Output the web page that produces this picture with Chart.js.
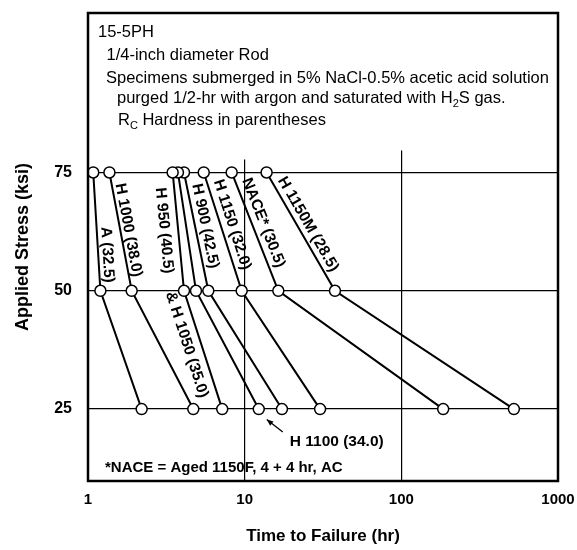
<!DOCTYPE html>
<html>
<head>
<meta charset="utf-8">
<script src="https://cdn.jsdelivr.net/npm/chart.js@4.4.1/dist/chart.umd.min.js"></script>
<style>
  body { margin: 0; background: #fff; }
  #wrap { width: 577px; height: 550px; }
</style>
</head>
<body>
<div id="wrap"><canvas id="failure"></canvas></div>
<script>
// stress levels (ksi) and time to failure (hr) per heat treatment
var stressLevels = [75, 50, 25];
var hoursA      = [1.08, 1.20, 2.20];
var hoursH1000  = [1.37, 1.90, 4.70];
var hoursH950   = [3.47, 4.10, 7.19];
var hoursH1100  = [3.75, 4.89, 12.3];
var hoursH900   = [4.10, 5.86, 17.3];
var hoursH1150  = [5.48, 9.57, 30.3];
var hoursNACE   = [8.26, 16.4, 185];
var hoursH1150M = [13.8, 37.7, 523];
var seriesNames = ['A', 'H 1000', 'H 950 & H 1050', 'H 1100', 'H 900', 'H 1150', 'NACE', 'H 1150M'];
var seriesHours = [hoursA, hoursH1000, hoursH950, hoursH1100, hoursH900, hoursH1150, hoursNACE, hoursH1150M];
var xTicks = [1, 10, 100, 1000];
var yTicks = [25, 50, 75];

var FONT = '"Liberation Sans", Arial, sans-serif';

// labels written along the lines: dataset, segment, fraction along it, offset (px, + = right)
var lineLabels = [
  {text: 'A (32.5)',        ds: 0, seg: 0, t: 0.70, off: 9},
  {text: 'H 1000 (38.0)',   ds: 1, seg: 0, t: 0.50, off: 8},
  {text: 'H 950 (40.5)',    ds: 2, seg: 0, t: 0.48, off: -14},
  {text: '& H 1050 (35.0)', ds: 2, seg: 1, t: 0.42, off: -14},
  {text: 'H 900 (42.5)',    ds: 4, seg: 0, t: 0.47, off: 10},
  {text: 'H 1150 (32.0)',   ds: 5, seg: 0, t: 0.47, off: 11},
  {text: 'NACE* (30.5)',    ds: 6, seg: 0, t: 0.46, off: 11},
  {text: 'H 1150M (28.5)',  ds: 7, seg: 0, t: 0.48, off: 10}
];

var headerLines = [
  {dx: 10, dy: 24, runs: [{s: '15-5PH'}]},
  {dx: 18.5, dy: 47, runs: [{s: '1/4-inch diameter Rod'}]},
  {dx: 18, dy: 70, runs: [{s: 'Specimens submerged in 5% NaCl-0.5% acetic acid solution'}]},
  {dx: 29, dy: 90, runs: [{s: 'purged 1/2-hr with argon and saturated with H'}, {s: '2', sub: true}, {s: 'S gas.'}]},
  {dx: 30, dy: 112, runs: [{s: 'R'}, {s: 'C', sub: true}, {s: ' Hardness in parentheses'}]}
];

var datasets = seriesHours.map(function(hrs, i) {
  return {
    label: seriesNames[i],
    data: hrs.map(function(h, j) { return {x: h, y: stressLevels[j]}; }),
    borderColor: '#000',
    borderWidth: 2,
    pointRadius: 5.5,
    pointBorderWidth: 1.5,
    pointBackgroundColor: '#fff',
    pointBorderColor: '#000',
    tension: 0,
    clip: false
  };
});

function segPoint(chart, ds, seg, t) {
  var pts = chart.getDatasetMeta(ds).data;
  var a = pts[seg], b = pts[seg + 1];
  return {x: a.x + (b.x - a.x) * t, y: a.y + (b.y - a.y) * t,
          ang: Math.atan2(b.y - a.y, b.x - a.x)};
}

function noPad(scale) {
  scale.paddingLeft = 0;
  scale.paddingRight = 0;
  scale.paddingTop = 0;
  scale.paddingBottom = 0;
}

var decorations = {
  id: 'decorations',
  beforeDatasetsDraw: function(chart) {
    var ctx = chart.ctx, area = chart.chartArea;
    var y75 = chart.scales.y.getPixelForValue(75);
    ctx.save();
    // text box covers the upper part of the grid
    ctx.fillStyle = '#fff';
    ctx.fillRect(area.left + 2, area.top - 8, area.right - area.left - 4, y75 - area.top - 14);
    ctx.fillRect(area.left + 2, area.top - 8, 200, y75 - area.top - 5);
    ctx.fillStyle = '#000';
    ctx.textBaseline = 'alphabetic';
    ctx.textAlign = 'left';
    headerLines.forEach(function(line) {
      var x = area.left + line.dx, y = area.top + line.dy;
      line.runs.forEach(function(r) {
        ctx.font = (r.sub ? '11px ' : '16.5px ') + FONT;
        ctx.fillText(r.s, x, r.sub ? y + 4 : y);
        x += ctx.measureText(r.s).width;
      });
    });
    ctx.restore();
  },
  afterDatasetsDraw: function(chart) {
    var ctx = chart.ctx, area = chart.chartArea;
    ctx.save();
    ctx.fillStyle = '#000';
    ctx.font = 'bold 15.5px ' + FONT;
    ctx.textAlign = 'center';
    ctx.textBaseline = 'middle';
    lineLabels.forEach(function(lb) {
      var p = segPoint(chart, lb.ds, lb.seg, lb.t);
      ctx.save();
      ctx.translate(p.x + lb.off * Math.sin(p.ang), p.y - lb.off * Math.cos(p.ang));
      ctx.rotate(p.ang);
      ctx.fillText(lb.text, 0, 0);
      ctx.restore();
    });

    // H 1100 callout
    var pt = chart.getDatasetMeta(3).data[2];
    ctx.textAlign = 'left';
    ctx.textBaseline = 'alphabetic';
    ctx.font = 'bold 15.5px ' + FONT;
    ctx.fillText('H 1100 (34.0)', pt.x + 31, pt.y + 37);
    var sx = pt.x + 24, sy = pt.y + 23, tx = pt.x + 8, ty = pt.y + 10.5;
    ctx.strokeStyle = '#000';
    ctx.lineWidth = 1.3;
    ctx.beginPath(); ctx.moveTo(sx, sy); ctx.lineTo(tx, ty); ctx.stroke();
    var a = Math.atan2(ty - sy, tx - sx);
    ctx.beginPath();
    ctx.moveTo(tx, ty);
    ctx.lineTo(tx - 7 * Math.cos(a - 0.4), ty - 7 * Math.sin(a - 0.4));
    ctx.lineTo(tx - 7 * Math.cos(a + 0.4), ty - 7 * Math.sin(a + 0.4));
    ctx.closePath(); ctx.fill();

    // footnote
    ctx.font = 'bold 15px ' + FONT;
    ctx.fillText('*NACE = Aged 1150F, 4 + 4 hr, AC', area.left + 17, area.bottom - 9);

    // frame
    ctx.lineWidth = 2.5;
    ctx.strokeRect(area.left, area.top, area.right - area.left, area.bottom - area.top);
    ctx.restore();
  }
};

var ctx = document.getElementById('failure');
var chart = new Chart(ctx, {
  type: 'line',
  data: { datasets: datasets },
  options: {
    responsive: true,
    maintainAspectRatio: false,
    animation: false,
    layout: { padding: { top: 13, right: 19, left: 0, bottom: 0 } },
    plugins: { legend: { display: false }, tooltip: { enabled: false } },
    scales: {
      x: {
        type: 'logarithmic',
        min: 1,
        max: 1000,
        afterBuildTicks: function(scale) {
          scale.ticks = xTicks.map(function(v) { return {value: v}; });
        },
        afterFit: function(scale) { scale.height = 69; noPad(scale); },
        ticks: {
          color: '#000',
          padding: 10,
          maxRotation: 0,
          font: { family: FONT, size: 15, weight: 'bold' },
          callback: function(v) { return String(v); }
        },
        grid: { color: '#000', lineWidth: 1.2, drawTicks: false },
        border: { display: false },
        title: {
          display: true,
          text: 'Time to Failure (hr)',
          color: '#000',
          font: { family: FONT, size: 17, weight: 'bold' },
          padding: { top: 0, bottom: 3 }
        }
      },
      y: {
        type: 'linear',
        min: 9.8,
        max: 108.7,
        afterBuildTicks: function(scale) {
          scale.ticks = yTicks.map(function(v) { return {value: v}; });
        },
        afterFit: function(scale) { scale.width = 88; noPad(scale); },
        ticks: {
          color: '#000',
          padding: 16,
          font: { family: FONT, size: 16, weight: 'bold' }
        },
        grid: { color: '#000', lineWidth: 1.2, drawTicks: false },
        border: { display: false },
        title: {
          display: true,
          text: 'Applied Stress (ksi)',
          color: '#000',
          font: { family: FONT, size: 18, weight: 'bold' },
          padding: { top: 12, bottom: 0 }
        }
      }
    }
  },
  plugins: [decorations]
});
</script>
</body>
</html>
